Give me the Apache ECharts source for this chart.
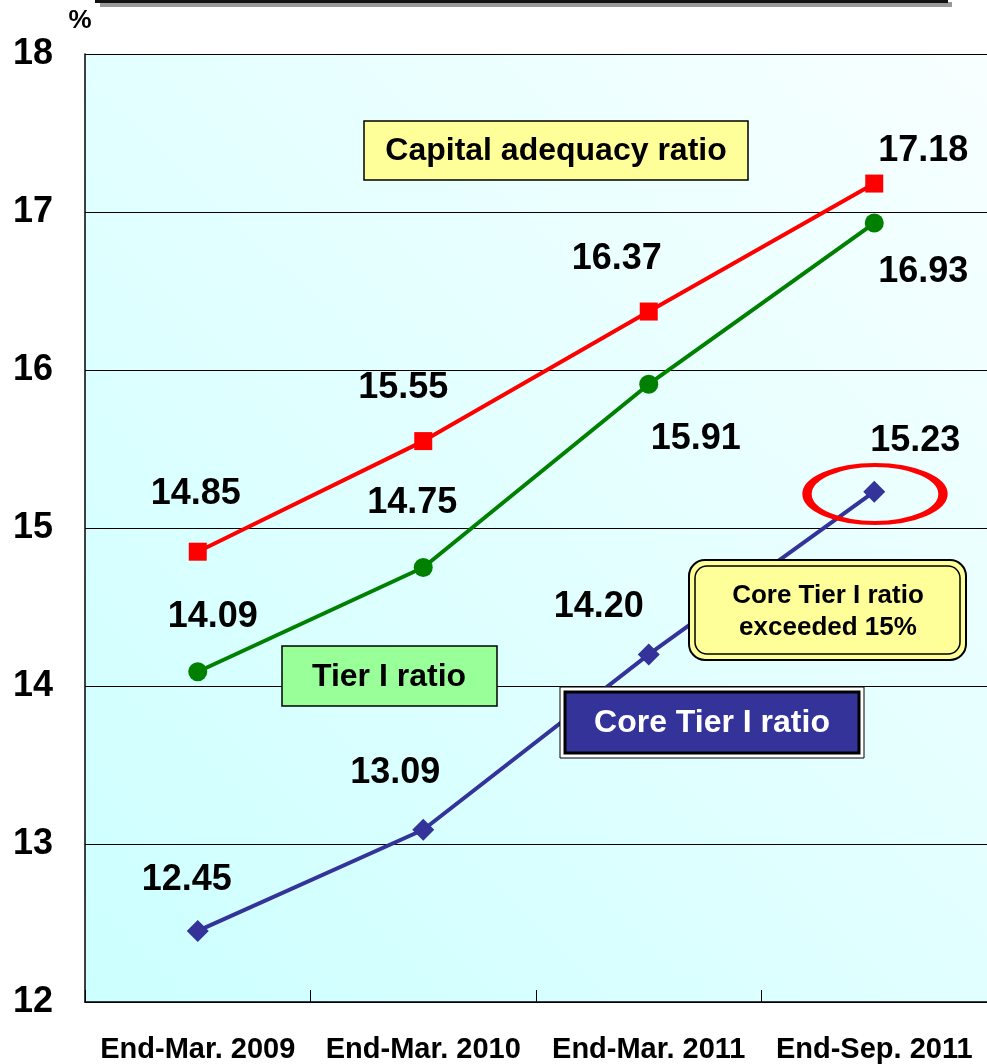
<!DOCTYPE html>
<html>
<head>
<meta charset="utf-8">
<script src="https://cdn.jsdelivr.net/npm/echarts@6/dist/echarts.min.js"></script>
<style>
  html, body { margin: 0; padding: 0; background: #ffffff; }
  #chart { width: 987px; height: 1064px; }
</style>
</head>
<body>
<div id="chart"></div>
<script>
// ---- data ----
const categories = ['End-Mar. 2009', 'End-Mar. 2010', 'End-Mar. 2011', 'End-Sep. 2011'];
const capitalAdequacy = [14.85, 15.55, 16.37, 17.18];
const tier1 = [14.09, 14.75, 15.91, 16.93];
const coreTier1 = [12.45, 13.09, 14.20, 15.23];
const yMin = 12, yMax = 18, yStep = 1;

// ---- label placement (pixel offsets from each point) ----
const capitalLabelOffsets = [[-2, -58], [-20, -53], [-32, -52], [49, -32]];
const tier1LabelOffsets = [[15, -55], [-11, -64], [47, 55], [49, 49]];
const coreLabelOffsets = [[-11, -51], [-28, -57], [-50, -47], [41, -51]];

const FONT = 'Arial, "Liberation Sans", Helvetica, sans-serif';

function withLabels(values, offsets) {
  return values.map((v, i) => ({
    value: v,
    label: { offset: offsets[i] }
  }));
}

const labelStyle = {
  show: true,
  position: 'inside',
  align: 'center',
  verticalAlign: 'middle',
  color: '#000000',
  fontFamily: FONT,
  fontWeight: 'bold',
  fontSize: 36,
  formatter: p => Number(p.value).toFixed(2)
};

const chart = echarts.init(document.getElementById('chart'), null, { renderer: 'canvas' });

const option = {
  animation: false,
  backgroundColor: '#ffffff',
  grid: {
    left: 85, top: 54, width: 905, height: 948,
    show: true,
    borderWidth: 0,
    backgroundColor: new echarts.graphic.LinearGradient(0, 1, 1, 0, [
      { offset: 0, color: '#ccffff' },
      { offset: 1, color: '#f8ffff' }
    ])
  },
  xAxis: {
    type: 'category',
    data: categories,
    boundaryGap: true,
    axisLine: { show: true, lineStyle: { color: '#000000', width: 1.5 } },
    axisTick: { show: true, inside: true, length: 12, lineStyle: { color: '#000000', width: 1 } },
    axisLabel: {
      color: '#000000', fontFamily: FONT, fontWeight: 'bold', fontSize: 29,
      margin: 33, interval: 0
    },
    splitLine: { show: false }
  },
  yAxis: {
    type: 'value',
    min: yMin, max: yMax, interval: yStep,
    axisLine: { show: true, lineStyle: { color: '#000000', width: 1.5 } },
    axisTick: { show: false },
    axisLabel: {
      color: '#000000', fontFamily: FONT, fontWeight: 'bold', fontSize: 36, margin: 32,
      padding: [8, 0, 0, 0]
    },
    splitLine: { show: true, lineStyle: { color: '#000000', width: 1 } }
  },
  series: [
    {
      name: 'Capital adequacy ratio',
      type: 'line',
      data: withLabels(capitalAdequacy, capitalLabelOffsets),
      symbol: 'rect', symbolSize: 18,
      lineStyle: { color: '#ff0000', width: 4 },
      itemStyle: { color: '#ff0000' },
      label: labelStyle,
      z: 3
    },
    {
      name: 'Tier I ratio',
      type: 'line',
      data: withLabels(tier1, tier1LabelOffsets),
      symbol: 'circle', symbolSize: 19,
      lineStyle: { color: '#008000', width: 4 },
      itemStyle: { color: '#008000' },
      label: labelStyle,
      z: 3
    },
    {
      name: 'Core Tier I ratio',
      type: 'line',
      data: withLabels(coreTier1, coreLabelOffsets),
      symbol: 'diamond', symbolSize: 22,
      lineStyle: { color: '#333399', width: 4 },
      itemStyle: { color: '#333399' },
      label: labelStyle,
      z: 3
    }
  ],
  graphic: [
    // top decorative bar
    { type: 'rect', z: 50, shape: { x: 100, y: 2, width: 852, height: 5 }, style: { fill: '#999999' } },
    { type: 'rect', z: 51, shape: { x: 95, y: 0, width: 853, height: 3 }, style: { fill: '#111111' } },
    // unit
    { type: 'text', z: 50, x: 80, y: 21, style: { text: '%', fill: '#000', font: 'bold 26px ' + FONT, align: 'center', verticalAlign: 'middle' } },
    // Capital adequacy ratio box
    { type: 'rect', z: 50, shape: { x: 364, y: 121, width: 384, height: 59 }, style: { fill: '#ffff99', stroke: '#000', lineWidth: 1.5 } },
    { type: 'text', z: 51, x: 556, y: 151, style: { text: 'Capital adequacy ratio', fill: '#000', font: 'bold 32px ' + FONT, align: 'center', verticalAlign: 'middle' } },
    // Tier I ratio box
    { type: 'rect', z: 50, shape: { x: 282, y: 646, width: 215, height: 60 }, style: { fill: '#99ff99', stroke: '#000', lineWidth: 1.5 } },
    { type: 'text', z: 51, x: 389, y: 677, style: { text: 'Tier I ratio', fill: '#000', font: 'bold 32px ' + FONT, align: 'center', verticalAlign: 'middle' } },
    // Core Tier I ratio box (double border)
    { type: 'rect', z: 50, shape: { x: 560, y: 687, width: 304, height: 71 }, style: { fill: '#ffffff', stroke: '#000', lineWidth: 1 } },
    { type: 'rect', z: 51, shape: { x: 565, y: 692, width: 294, height: 61 }, style: { fill: '#333399', stroke: '#000', lineWidth: 3 } },
    { type: 'text', z: 52, x: 712, y: 723, style: { text: 'Core Tier I ratio', fill: '#ffffff', font: 'bold 32px ' + FONT, align: 'center', verticalAlign: 'middle' } },
    // Callout (rounded, double border)
    { type: 'rect', z: 50, shape: { x: 689, y: 560, width: 277, height: 100, r: 16 }, style: { fill: '#ffff99', stroke: '#000', lineWidth: 2 } },
    { type: 'rect', z: 51, shape: { x: 695, y: 566, width: 265, height: 88, r: 12 }, style: { fill: '#ffff99', stroke: '#000', lineWidth: 1.5 } },
    { type: 'text', z: 52, x: 828, y: 596, style: { text: 'Core Tier I ratio', fill: '#000', font: 'bold 26px ' + FONT, align: 'center', verticalAlign: 'middle' } },
    { type: 'text', z: 52, x: 828, y: 628, style: { text: 'exceeded 15%', fill: '#000', font: 'bold 26px ' + FONT, align: 'center', verticalAlign: 'middle' } },
    // red ellipse highlight
    { type: 'circle', z: 50, x: 875, y: 494, scaleX: 68 / 29, scaleY: 1, shape: { cx: 0, cy: 0, r: 29 }, style: { fill: 'none', stroke: '#ff0000', lineWidth: 4, strokeNoScale: true } }
  ]
};

chart.setOption(option);
</script>
</body>
</html>
